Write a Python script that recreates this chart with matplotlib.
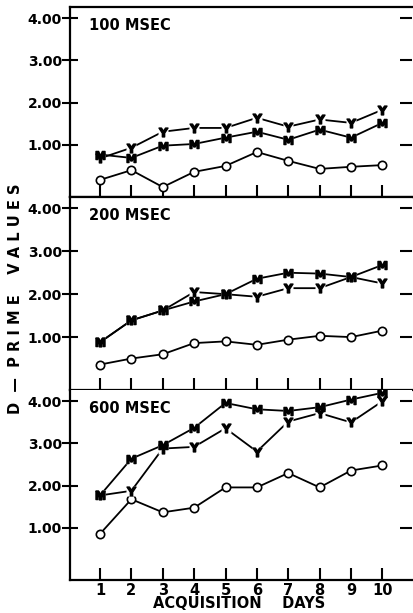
import numpy as np
import matplotlib
matplotlib.use("Agg")
import matplotlib.pyplot as plt

days = np.arange(1, 11)

# d-prime values, one set per exposure duration
panels = ["100 MSEC", "200 MSEC", "600 MSEC"]

y_100 = [0.68, 0.93, 1.31, 1.40, 1.40, 1.64, 1.43, 1.60, 1.52, 1.83]
m_100 = [0.77, 0.69, 0.98, 1.02, 1.17, 1.31, 1.12, 1.36, 1.17, 1.52]
o_100 = [0.17, 0.40, 0.00, 0.36, 0.50, 0.83, 0.62, 0.43, 0.48, 0.52]

y_200 = [0.88, 1.39, 1.62, 2.05, 2.00, 1.94, 2.14, 2.14, 2.40, 2.25]
m_200 = [0.88, 1.39, 1.62, 1.83, 2.00, 2.36, 2.50, 2.48, 2.40, 2.68]
o_200 = [0.36, 0.50, 0.60, 0.86, 0.90, 0.82, 0.94, 1.03, 1.00, 1.15]

y_600 = [1.77, 1.88, 2.88, 2.92, 3.36, 2.81, 3.52, 3.72, 3.50, 4.00]
m_600 = [1.77, 2.64, 2.96, 3.37, 3.96, 3.81, 3.77, 3.86, 4.04, 4.20]
o_600 = [0.86, 1.68, 1.37, 1.48, 1.96, 1.96, 2.30, 1.96, 2.36, 2.48]

series = [
    (y_100, m_100, o_100),
    (y_200, m_200, o_200),
    (y_600, m_600, o_600),
]

yticks = [1, 2, 3, 4]
ytick_labels = ["1.00", "2.00", "3.00", "4.00"]

plt.rcParams['font.family'] = ['DejaVu Sans']
plt.rcParams['font.weight'] = 'bold'

fig = plt.figure(figsize=(4.13, 6.13), dpi=100)

rects = [
    [0.170, 0.679, 0.828, 0.310],
    [0.170, 0.364, 0.828, 0.315],
    [0.170, 0.054, 0.828, 0.310],
]

for i, (rect, name, (yv, mv, ov)) in enumerate(zip(rects, panels, series)):
    ax = fig.add_axes(rect)
    ax.plot(days, ov, color='black', lw=1.3, marker='o', ms=6,
            mfc='white', mec='black', mew=1.2, zorder=3)
    for vals, letter in [(yv, 'Y'), (mv, 'M')]:
        ax.plot(days, vals, color='black', lw=1.3, zorder=2)
        ax.plot(days, vals, ls='none', marker='s', ms=7, mfc='white',
                mec='none', zorder=3)
        ax.plot(days, vals, ls='none', marker='$\\mathbf{%s}$' % letter,
                ms=6.5, color='black', zorder=4)

    ax.set_xlim(0.05, 10.95)
    ax.set_ylim(-0.23, 4.27)
    ax.set_xticks(days)
    ax.set_yticks(yticks)
    ax.set_yticklabels(ytick_labels)
    ax.tick_params(axis='y', direction='inout', length=12,
                   width=1.5, labelsize=10, pad=0)
    ax.tick_params(axis='x', direction='in', length=9, width=1.5,
                   labelsize=10.5, pad=2)
    for s in ax.spines.values():
        s.set_linewidth(1.6)
    ax.spines['right'].set_visible(False)
    if i < 2:
        ax.tick_params(axis='x', labelbottom=False)
    else:
        ax.spines['top'].set_visible(False)

    # short inward ticks on the right edge
    sec = ax.secondary_yaxis('right')
    sec.set_yticks(yticks)
    sec.set_yticklabels([])
    sec.tick_params(direction='in', length=9, width=1.5)
    sec.spines['right'].set_visible(False)

    ax.text(0.055, 0.94, name, transform=ax.transAxes, fontsize=10.5,
            ha='left', va='top')

fig.text(0.037, 0.513, "D  \u2014  P R I M E    V A L U E S", rotation=90,
         ha='center', va='center', fontsize=10.5)
fig.text(0.58, 0.003, "ACQUISITION    DAYS", ha='center', va='bottom',
         fontsize=10.5)

fig.savefig("out.png", dpi=100)
